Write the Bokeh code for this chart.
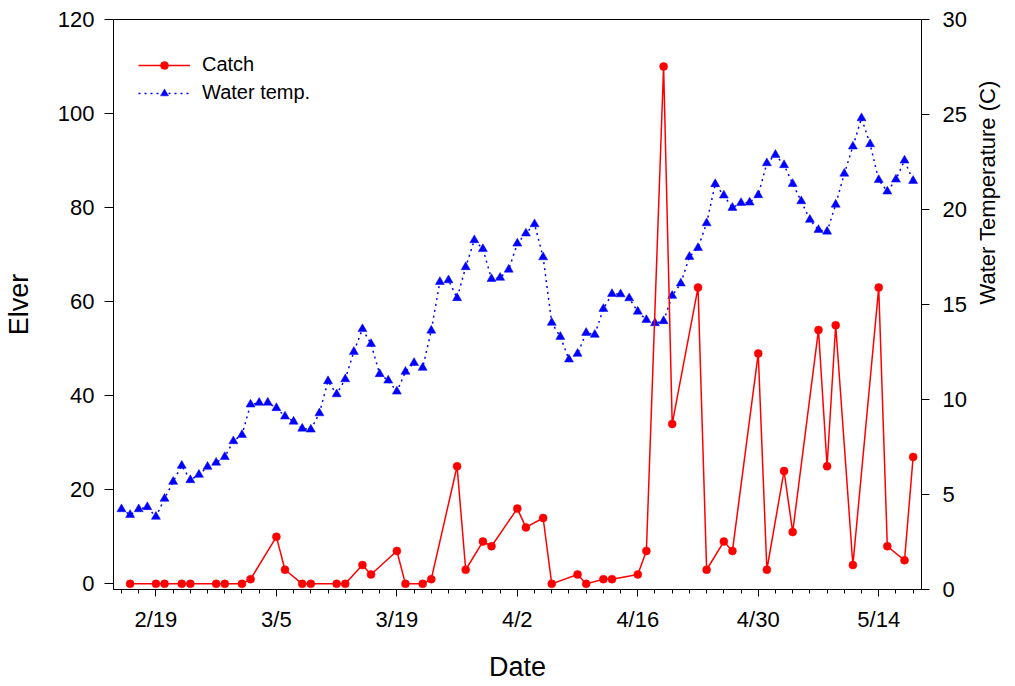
import math
from datetime import datetime, timedelta
from bokeh.plotting import figure
from bokeh.models import (Range1d, LinearAxis, FixedTicker, CustomJSTickFormatter,
                          Legend, LegendItem, ColumnDataSource)
from bokeh.embed import file_html
from bokeh.resources import INLINE

YEAR = 2023

catch_dates = ["2/16", "2/19", "2/20", "2/22", "2/23", "2/26", "2/27", "3/1", "3/2",
               "3/5", "3/6", "3/8", "3/9", "3/12", "3/13", "3/15", "3/16", "3/19",
               "3/20", "3/22", "3/23", "3/26", "3/27", "3/29", "3/30", "4/2", "4/3",
               "4/5", "4/6", "4/9", "4/10", "4/12", "4/13", "4/16", "4/17", "4/19",
               "4/20", "4/23", "4/24", "4/26", "4/27", "4/30", "5/1", "5/3", "5/4",
               "5/7", "5/8", "5/9", "5/11", "5/14", "5/15", "5/17", "5/18"]
catch_values = [0, 0, 0, 0, 0, 0, 0, 0, 1,
                10, 3, 0, 0, 0, 0, 4, 2, 7,
                0, 0, 1, 25, 3, 9, 8, 16, 12,
                14, 0, 2, 0, 1, 1, 2, 7, 110,
                34, 63, 3, 9, 7, 49, 3, 24, 11,
                54, 25, 55, 4, 63, 8, 5, 27]

temp_start = "2/15"
temp_values = [4.23, 3.93, 4.23, 4.34, 3.83, 4.78, 5.67, 6.52, 5.76, 6.04, 6.46, 6.68, 6.98, 7.81,
               8.14, 9.74, 9.83, 9.84, 9.55, 9.11, 8.84, 8.47, 8.42, 9.28, 10.97, 10.28, 11.07,
               12.51, 13.71, 12.93, 11.34, 11.00, 10.42, 11.46, 11.93, 11.67, 13.63, 16.19,
               16.28, 15.34, 16.97, 18.39, 17.92, 16.35, 16.41, 16.84,
               18.21, 18.74, 19.23, 17.49, 14.04, 13.30, 12.11, 12.41, 13.51, 13.41, 14.77,
               15.56, 15.54, 15.33, 14.63, 14.19, 14.02, 14.13, 15.46, 16.11, 17.51, 17.98,
               19.28, 21.34, 20.74, 20.09, 20.35, 20.37,
               20.76, 22.44, 22.88, 22.34, 21.35, 20.44, 19.46, 18.93, 18.84, 20.26, 21.89,
               23.32, 24.81, 23.44, 21.56, 20.95, 21.58, 22.58, 21.51]

major_tick_dates = ["2/19", "3/5", "3/19", "4/2", "4/16", "4/30", "5/14"]
minor_tick_first, minor_tick_last = "2/15", "5/18"
left_ticks = [0, 20, 40, 60, 80, 100, 120]
right_ticks = [0, 5, 10, 15, 20, 25, 30]
right_title = "Water Temperature (C)"
right_title_at = 15


def to_dt(s):
    m, d = s.split("/")
    return datetime(YEAR, int(m), int(d))


def to_ms(dt):
    return (dt - datetime(1970, 1, 1)).total_seconds() * 1000.0


catch_x = [to_dt(s) for s in catch_dates]
t0 = to_dt(temp_start)
temp_x = [t0 + timedelta(days=i) for i in range(len(temp_values))]

major_ms = [to_ms(to_dt(s)) for s in major_tick_dates]
minor_ms = []
d = to_dt(minor_tick_first)
while d <= to_dt(minor_tick_last):
    minor_ms.append(to_ms(d))
    d += timedelta(days=2)

FONT = "Liberation Sans"

p = figure(width=1015, height=686, x_axis_type="datetime",
           x_range=Range1d(start=datetime(YEAR, 2, 14, 1, 40), end=datetime(YEAR, 5, 18, 23, 20)),
           y_range=Range1d(-1.2, 120),
           output_backend="svg", toolbar_location=None,
           min_border_left=109, min_border_right=93, min_border_top=19, min_border_bottom=97)
p.extra_y_ranges = {"temp": Range1d(0, 30)}
p.xgrid.visible = False
p.ygrid.visible = False
p.outline_line_color = "black"
p.outline_line_alpha = 1.0
p.outline_line_width = 1
p.background_fill_color = "white"
p.border_fill_color = "white"


def style_axis(ax, tick_out, standoff, title_size, title_standoff):
    ax.axis_line_color = "black"
    ax.major_tick_line_color = "black"
    ax.minor_tick_line_color = "black"
    ax.major_tick_in = 0
    ax.major_tick_out = tick_out
    ax.minor_tick_in = 0
    ax.major_label_standoff = standoff
    ax.major_label_text_font = FONT
    ax.major_label_text_font_size = "22px"
    ax.major_label_text_color = "black"
    ax.axis_label_text_font = FONT
    ax.axis_label_text_font_size = title_size
    ax.axis_label_text_font_style = "normal"
    ax.axis_label_text_color = "black"
    ax.axis_label_standoff = title_standoff


xax = p.xaxis[0]
xax.ticker = FixedTicker(ticks=major_ms, minor_ticks=minor_ms)
xax.formatter = CustomJSTickFormatter(
    code="const d = new Date(tick); return (d.getUTCMonth() + 1) + '/' + d.getUTCDate();")
style_axis(xax, 7, 10, "27px", 17)
xax.minor_tick_out = 4
xax.axis_label = "Date"

yax = p.yaxis[0]
yax.ticker = FixedTicker(ticks=left_ticks, minor_ticks=[])
style_axis(yax, 9, 10, "27px", 21)
yax.minor_tick_out = 0
yax.axis_label = "Elver"

# right axis with ticks and tick labels
rax = LinearAxis(y_range_name="temp", ticker=FixedTicker(ticks=right_ticks, minor_ticks=[]))
style_axis(rax, 8, 13, "22px", 0)
rax.minor_tick_out = 0
p.add_layout(rax, "right")

# second right axis whose single rotated tick label is the title
rtitle_ax = LinearAxis(y_range_name="temp",
                       ticker=FixedTicker(ticks=[right_title_at], minor_ticks=[]))
style_axis(rtitle_ax, 0, 18, "22px", 0)
rtitle_ax.axis_line_color = None
rtitle_ax.major_tick_line_color = None
rtitle_ax.minor_tick_line_color = None
rtitle_ax.minor_tick_out = 0
rtitle_ax.major_label_overrides = {right_title_at: right_title}
rtitle_ax.major_label_orientation = math.pi / 2
p.add_layout(rtitle_ax, "right")

tsrc = ColumnDataSource(dict(x=temp_x, y=temp_values))
csrc = ColumnDataSource(dict(x=catch_x, y=catch_values))

bl = p.line("x", "y", source=tsrc, y_range_name="temp", line_color="#0000FF",
            line_width=1.5, line_dash="2 4")
bs = p.scatter("x", "y", source=tsrc, y_range_name="temp", marker="triangle", size=9,
               fill_color="#0000FF", line_color="#0000FF", line_width=0.5)
rl = p.line("x", "y", source=csrc, line_color="#FF0000", line_width=1.5)
rs = p.scatter("x", "y", source=csrc, marker="circle", size=8,
               fill_color="#FF0000", line_color="#FF0000", line_width=0.5)

legend = Legend(items=[LegendItem(label="Catch", renderers=[rl, rs]),
                       LegendItem(label="Water temp.", renderers=[bl, bs])],
                location=(25, 485), glyph_width=52, glyph_height=20, label_height=20,
                spacing=5, padding=0, margin=0, label_standoff=12,
                border_line_alpha=0, background_fill_alpha=0,
                label_text_font=FONT, label_text_font_size="20px", label_text_color="black")
p.add_layout(legend)

open("out.html", "w").write(file_html(p, INLINE))
